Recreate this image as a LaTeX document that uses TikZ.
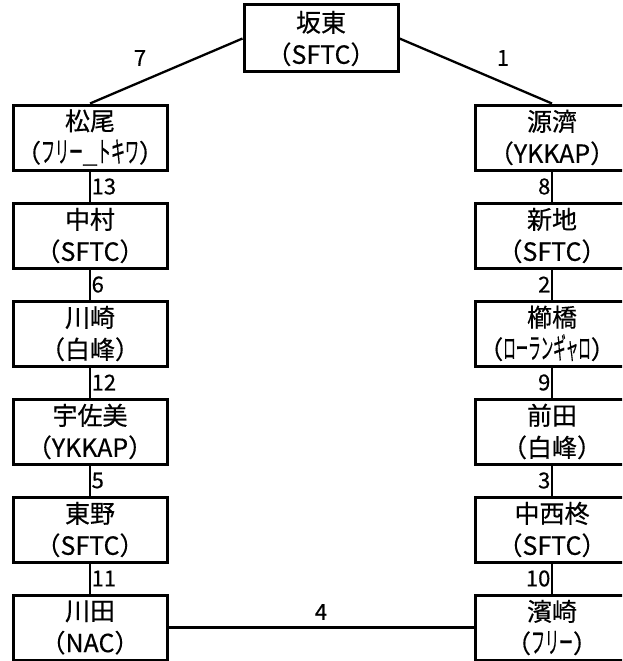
\documentclass[tikz,border=0pt]{standalone}
\usepackage{fontspec}
\setmainfont{Noto Sans CJK JP}
\newfontfamily\jp{Noto Sans CJK JP}[FakeBold=0.4]
\newcommand{\hw}[1]{\scalebox{0.56}[1.15]{#1}}
\newcommand{\hwn}[1]{\scalebox{0.5}[1.15]{#1}}
\begin{document}
\begin{tikzpicture}[x=1pt,y=-1pt,
  box/.style={draw,line width=3pt,minimum width=154pt,minimum height=65pt,inner sep=0pt,align=center,font=\jp\fontsize{25}{32}\selectfont},
  conn/.style={line width=2.3pt},
  lab/.style={inner sep=1pt,font=\jp\fontsize{22}{24}\selectfont}]
\useasboundingbox (0,0) rectangle (622,661);
\clip (0,0) rectangle (622,661);
\node[box,minimum height=67pt] (t) at (321,38.5) {坂東\\（SFTC）};
\node[box] (l1) at (90,137.5) {松尾\\（\hw{フリー＿トキワ}）};
\node[box] (l2) at (90,235.5) {中村\\（SFTC）};
\node[box] (l3) at (90,333.5) {川崎\\（白峰）};
\node[box] (l4) at (90,431.5) {宇佐美\\（YKKAP）};
\node[box] (l5) at (90,529.5) {東野\\（SFTC）};
\node[box] (l6) at (90,627.5) {川田\\（NAC）};
\node[box] (r1) at (552,137.5) {源濟\\（YKKAP）};
\node[box] (r2) at (552,235.5) {新地\\（SFTC）};
\node[box] (r3) at (552,333.5) {櫛橋\\（\hwn{ローランギャロ}）\hspace*{10pt}};
\node[box] (r4) at (552,431.5) {前田\\（白峰）};
\node[box] (r5) at (552,529.5) {中西柊\\（SFTC）};
\node[box] (r6) at (552,627.5) {濱崎\\（\hw{フリー}）};
\draw[conn] (t.west) -- (l1.north);
\draw[conn] (t.east) -- (r1.north);
\draw[conn] (l6.east) -- (r6.west);
\node[lab] (n7) at (140,58) {7};
\node[lab] (n1) at (503,58) {1};
\node[lab] (n4) at (321,612) {4};
\foreach \a/\b/\n in {l1/l2/13,l2/l3/6,l3/l4/12,l4/l5/5,l5/l6/11}{
  \draw[conn] (\a.south) -- (\b.north) node[lab,midway,right,inner sep=0.5pt] (lab\n) {\n};
}
\foreach \a/\b/\n in {r1/r2/8,r2/r3/2,r3/r4/9,r4/r5/3,r5/r6/10}{
  \draw[conn] (\a.south) -- (\b.north) node[lab,midway,left,inner sep=0.5pt] (lab\n) {\n};
}
\end{tikzpicture}
\end{document}
